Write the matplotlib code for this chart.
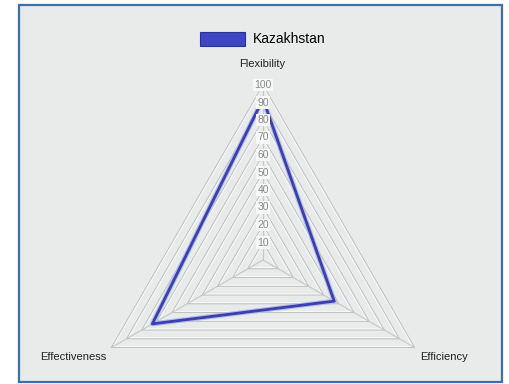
import numpy as np
import matplotlib
matplotlib.use("Agg")
import matplotlib.pyplot as plt
from matplotlib.patches import Rectangle, Patch

plt.rcParams['font.family'] = ['Liberation Sans', 'DejaVu Sans']

# data
categories = ["Flexibility", "Efficiency", "Effectiveness"]
kazakhstan = [92, 47, 73]
levels = [10, 20, 30, 40, 50, 60, 70, 80, 90, 100]
series_name = "Kazakhstan"

W, H = 509, 384
fig = plt.figure(figsize=(W / 100, H / 100), dpi=100)
fig.patch.set_facecolor("white")

# framed panel (behind the axes)
fig.patches.append(Rectangle((19 / W, 1 - 382 / H), 483 / W, 377 / H,
                             transform=fig.transFigure, facecolor="#e8ebea",
                             edgecolor="#3c6ea8", lw=1.6, zorder=-5))

# polar axes centred on the triangle
cx, cy, R = 263, 260, 175
ax = fig.add_axes([(cx - R) / W, (H - cy - R) / H, 2 * R / W, 2 * R / H],
                  projection="polar")
ax.set_zorder(1)
ax.set_facecolor("none")
ax.set_theta_offset(np.pi / 2)
ax.set_theta_direction(-1)
ax.set_ylim(0, 100)
ax.grid(False)
ax.spines["polar"].set_visible(False)
ax.set_xticks([])
ax.set_yticks([])

angles = np.linspace(0, 2 * np.pi, len(categories), endpoint=False)
closed = np.append(angles, angles[0])

# triangular grid
for lv in levels:
    ax.plot(closed, [lv] * (len(categories) + 1), color="#bfc3c3", lw=0.8,
            zorder=1, clip_on=False)
    ax.plot(closed, [lv - 1.3] * (len(categories) + 1), color="#f8f9f9", lw=0.7,
            zorder=1, clip_on=False)
for a in angles:
    ax.plot([a, a], [0, levels[-1]], color="#c4c8c8", lw=0.8, zorder=1,
            clip_on=False)

# series
vals = np.append(kazakhstan, kazakhstan[0])
ax.plot(closed, vals, color="#b4bae8", lw=3.6, zorder=2, clip_on=False)
ax.plot(closed, vals, color="#3a40ac", lw=2.0, zorder=3, clip_on=False)

# radial tick labels
for lv in levels:
    ax.text(0, lv, str(lv), ha="center", va="center", fontsize=7.5,
            color="#8a8a8a", zorder=4,
            bbox=dict(boxstyle="square,pad=0.1", facecolor="#f6f7f7",
                      edgecolor="none"))

# category labels
fig.text(262 / W, 1 - 64 / H, categories[0], ha="center", va="center",
         fontsize=8, color="#222222")
fig.text(444 / W, 1 - 357 / H, categories[1], ha="center", va="center",
         fontsize=8, color="#222222")
fig.text(73 / W, 1 - 357 / H, categories[2], ha="center", va="center",
         fontsize=8, color="#222222")

# legend
handle = Patch(facecolor="#3f46c4", edgecolor="#2a3290", lw=0.8)
fig.legend([handle], [series_name], loc="center",
           bbox_to_anchor=(263 / W, 1 - 39 / H), frameon=False, fontsize=10,
           handlelength=3.2, handleheight=1.2, handletextpad=0.6)

fig.savefig("out.png", dpi=100)
